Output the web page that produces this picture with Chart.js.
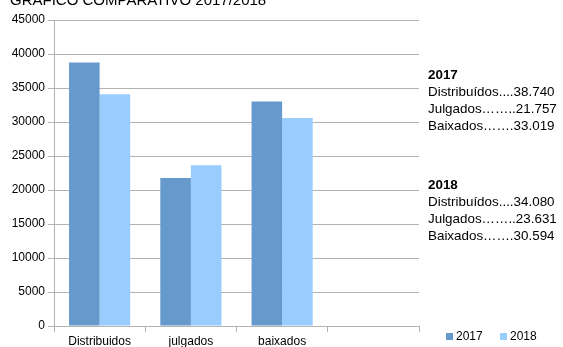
<!DOCTYPE html>
<html><head><meta charset="utf-8">
<script src="https://cdn.jsdelivr.net/npm/chart.js@4/dist/chart.umd.min.js"></script>
<style>html,body{margin:0;padding:0;background:#fff}#w{width:563px;height:347px}</style>
</head><body><div id="w"><canvas id="c" width="563" height="347"></canvas></div>
<script>
const categories = ["Distribuidos", "julgados", "baixados", ""];
const values2017 = [38740, 21757, 33019, null];
const values2018 = [34080, 23631, 30594, null];
const seriesNames = ["2017", "2018"];
const yTicks = [0, 5000, 10000, 15000, 20000, 25000, 30000, 35000, 40000, 45000];
const titleText = "GRÁFICO COMPARATIVO 2017/2018";
const notes2017 = ["Distribuídos....38.740", "Julgados……..21.757", "Baixados…….33.019"];
const notes2018 = ["Distribuídos....34.080", "Julgados……..23.631", "Baixados…….30.594"];
const colors = ["#6699cc", "#99ccff"];
const FONT = "'Liberation Sans', Arial, sans-serif";

const extras = {
  id: 'extras',
  afterDraw(chart) {
    const ctx = chart.ctx;
    ctx.save();
    ctx.fillStyle = '#000';
    ctx.textBaseline = 'alphabetic';
    ctx.textAlign = 'left';
    ctx.font = "15px " + FONT;
    ctx.fillText(titleText, 10, 5);
    // notes
    let y = 79;
    ctx.font = "bold 13.4px " + FONT;
    ctx.fillText(seriesNames[0], 428, y);
    ctx.font = "13.4px " + FONT;
    notes2017.forEach((t, i) => ctx.fillText(t, 428, y + 17 * (i + 1)));
    y = 189;
    ctx.font = "bold 13.4px " + FONT;
    ctx.fillText(seriesNames[1], 428, y);
    ctx.font = "13.4px " + FONT;
    notes2018.forEach((t, i) => ctx.fillText(t, 428, y + 17 * (i + 1)));
    // legend
    ctx.font = "12px " + FONT;
    ctx.textBaseline = 'middle';
    const lx = [446, 500];
    seriesNames.forEach((n, i) => {
      ctx.fillStyle = colors[i];
      ctx.fillRect(lx[i], 333, 7, 7);
      ctx.fillStyle = '#000';
      ctx.fillText(n, lx[i] + 10, 337);
    });
    ctx.restore();
  }
};

new Chart(document.getElementById('c'), {
  type: 'bar',
  data: {
    labels: categories,
    datasets: [
      { label: seriesNames[0], data: values2017, backgroundColor: colors[0], categoryPercentage: 0.67, barPercentage: 1.0 },
      { label: seriesNames[1], data: values2018, backgroundColor: colors[1], categoryPercentage: 0.67, barPercentage: 1.0 }
    ]
  },
  options: {
    responsive: false,
    animation: false,
    devicePixelRatio: 1,
    layout: { padding: { left: 0, right: 144, top: 20, bottom: 0 } },
    plugins: { legend: { display: false }, tooltip: { enabled: false } },
    scales: {
      x: {
        offset: true,
        grid: { offset: true, drawOnChartArea: false, color: '#b3b3b3', tickLength: 6, tickColor: '#b3b3b3' },
        border: { color: '#b3b3b3', width: 1 },
        ticks: { color: '#000', font: { family: FONT, size: 12 }, padding: 2, maxRotation: 0 },
        afterFit(s) { s.height = 21; }
      },
      y: {
        min: 0, max: 45000,
        afterBuildTicks(s) { s.ticks = yTicks.map(v => ({ value: v })); },
        grid: { color: '#b3b3b3', tickLength: 6, tickColor: '#b3b3b3' },
        border: { color: '#b3b3b3', width: 1 },
        ticks: { color: '#000', font: { family: FONT, size: 12 }, padding: 3, callback: v => String(v) },
        afterFit(s) { s.width = 54; }
      }
    }
  },
  plugins: [extras]
});
</script></body></html>
